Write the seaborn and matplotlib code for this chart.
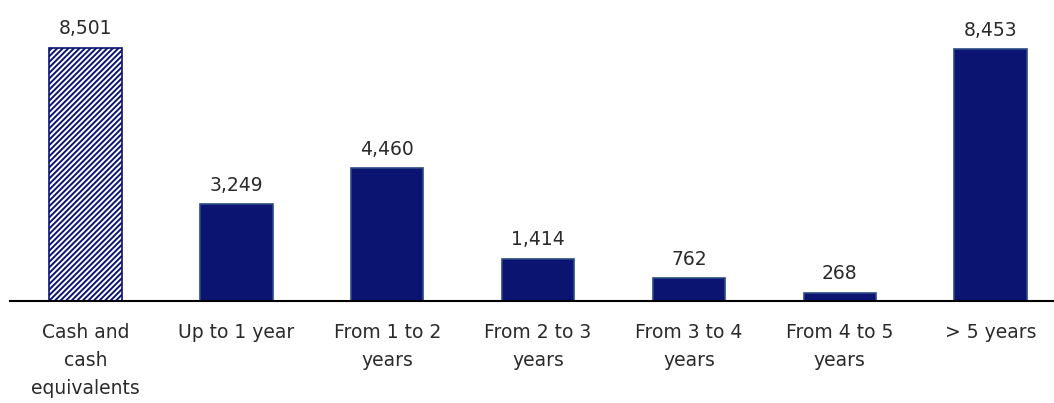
import matplotlib
matplotlib.use("Agg")
import matplotlib.pyplot as plt
import seaborn as sns
import pandas as pd

categories = ["Cash and\ncash\nequivalents", "Up to 1 year", "From 1 to 2\nyears",
              "From 2 to 3\nyears", "From 3 to 4\nyears", "From 4 to 5\nyears", "> 5 years"]
values = [8501, 3249, 4460, 1414, 762, 268, 8453]

sns.set_theme(style="white")
plt.rcParams['font.family'] = ['DejaVu Sans']
plt.rcParams['hatch.linewidth'] = 1.4

navy = "#0B1470"
edge = "#2B4A86"
text_color = "#2a2a2a"

df = pd.DataFrame({"cat": categories, "val": values})

fig = plt.figure(figsize=(10.54, 4.03), dpi=100)
ax = fig.add_axes([10/1054, 102/403, 1 - 10/1054, 301/403])

sns.barplot(data=df, x="cat", y="val", color=navy, width=0.48, ax=ax,
            saturation=1, edgecolor=edge, linewidth=1.2)

# hatched first bar
p0 = ax.patches[0]
p0.set_facecolor("white")
p0.set_hatch("//////")
p0.set_edgecolor(navy)

ax.bar_label(ax.containers[0], labels=[f"{v:,}" for v in values], padding=7,
             fontsize=13.5, color=text_color)

ax.set_ylim(0, 10113)
ax.set_xlim(-0.5, 6.42)
ax.set_xlabel("")
ax.set_ylabel("")
ax.set_yticks([])
for s in ["top", "right", "left"]:
    ax.spines[s].set_visible(False)
ax.spines["bottom"].set_color("black")
ax.spines["bottom"].set_linewidth(1.5)
ax.tick_params(axis="x", length=0, pad=16, labelsize=13.5, colors=text_color)
for lbl in ax.get_xticklabels():
    lbl.set_linespacing(1.58)
    lbl.set_verticalalignment("top")

fig.savefig("out.png", dpi=100)
